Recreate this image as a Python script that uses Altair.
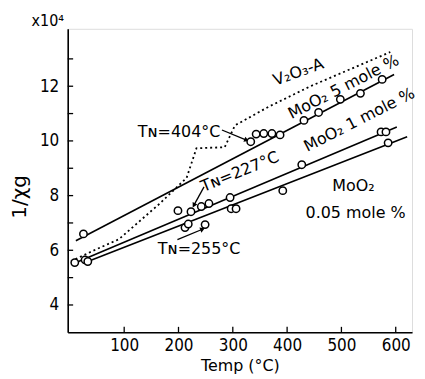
import altair as alt
import pandas as pd

# ---- data ----
# fitted straight lines (end points) for the three MoO2-doped samples
fit_series = ["5", "5", "1", "1", "0.05", "0.05"]
fit_x = [11, 597, 5, 602, 33, 621]
fit_y = [6.35, 12.43, 5.5, 10.51, 5.59, 10.15]

# V2O3-A dotted curve
v2o3_x = [2, 50, 90, 165, 215, 233, 285, 304, 318, 366, 443, 590]
v2o3_y = [5.6, 6.05, 6.4, 7.7, 8.65, 9.73, 9.77, 10.57, 10.72, 11.25, 12.0, 13.25]

# measured points
p5_x = [25, 333, 343, 357, 372, 387, 431, 458, 498, 535, 575]
p5_y = [6.6, 9.97, 10.25, 10.27, 10.27, 10.22, 10.75, 11.04, 11.52, 11.74, 12.25]
p1_x = [9, 28, 199, 223, 242, 256, 295, 427, 573, 582]
p1_y = [5.55, 5.65, 7.45, 7.41, 7.6, 7.71, 7.93, 9.13, 10.33, 10.33]
p005_x = [33, 212, 218, 249, 297, 306, 392, 586]
p005_y = [5.59, 6.83, 6.96, 6.94, 7.52, 7.52, 8.18, 9.93]

# annotations
lab_text = ["Tɴ=404°C", "Tɴ=227°C", "Tɴ=255°C", "V₂O₃-A", "MoO₂  5 mole %",
            "MoO₂  1 mole %", "MoO₂", "0.05 mole %"]
lab_x = [201, 313, 238, 421, 504, 533, 522, 526]
lab_y = [10.33, 8.87, 6.03, 12.52, 11.97, 10.77, 8.36, 7.38]
lab_angle = [0, 338, 0, 340, 333, 333, 0, 0]

arr_x = [280, 247, 198]
arr_y = [10.40, 8.32, 6.39]
arr_x2 = [324, 229, 243]
arr_y2 = [10.04, 7.67, 6.76]
arr_head = [112, 209, 68]

x_ticks = [100, 200, 300, 400, 500, 600]
y_ticks = [4, 6, 8, 10, 12]
y_minor = [4, 5, 6, 7, 8, 9, 10, 11, 12, 13]

XDOM = [-4, 630]
YDOM = [3, 14.1]
FONT = "DejaVu Sans Condensed, DejaVu Sans"

fits = pd.DataFrame({"s": fit_series, "x": fit_x, "y": fit_y})
v2o3 = pd.DataFrame({"x": v2o3_x, "y": v2o3_y})
pts = pd.DataFrame({
    "x": p5_x + p1_x + p005_x,
    "y": p5_y + p1_y + p005_y,
})
labs = pd.DataFrame({"t": lab_text, "x": lab_x, "y": lab_y, "a": lab_angle})
arrows = pd.DataFrame({"x": arr_x, "y": arr_y, "x2": arr_x2, "y2": arr_y2, "a": arr_head})
xt = pd.DataFrame({"x": x_ticks, "y": [YDOM[0]] * len(x_ticks), "y2": [YDOM[0] + 0.2] * len(x_ticks)})
yt = pd.DataFrame({"y": y_minor, "x": [XDOM[0]] * len(y_minor), "x2": [XDOM[0] + 10] * len(y_minor)})

xs = alt.Scale(domain=XDOM, nice=False, zero=False)
ys = alt.Scale(domain=YDOM, nice=False, zero=False)

xaxis = alt.Axis(values=x_ticks, tickSize=0, grid=False, domainColor="black", domainWidth=1.6,
                 labelFont=FONT, labelFontSize=17, labelColor="black", labelPadding=5,
                 title="Temp (°C)", titleFont="DejaVu Sans", titleFontSize=16,
                 titleFontWeight="normal", titleColor="black", titlePadding=4)
yaxis = alt.Axis(values=y_ticks, tickSize=0, grid=False, domainColor="black", domainWidth=1.6,
                 labelFont=FONT, labelFontSize=17, labelColor="black", labelPadding=9, title=None)

base_fit = alt.Chart(fits).mark_line(color="black", strokeWidth=1.6).encode(
    x=alt.X("x:Q", scale=xs, axis=xaxis),
    y=alt.Y("y:Q", scale=ys, axis=yaxis),
    detail="s:N",
)
dotted = alt.Chart(v2o3).mark_line(color="black", strokeWidth=1.8, strokeDash=[2, 3]).encode(
    x=alt.X("x:Q", scale=xs), y=alt.Y("y:Q", scale=ys), order="x:Q"
)
points = alt.Chart(pts).mark_point(shape="circle", filled=True, fill="white", stroke="black",
                                   strokeWidth=1.5, size=55, opacity=1).encode(
    x=alt.X("x:Q", scale=xs), y=alt.Y("y:Q", scale=ys)
)
texts = alt.Chart(labs).mark_text(font="DejaVu Sans", fontSize=16, color="black",
                                  align="center", baseline="middle").encode(
    x=alt.X("x:Q", scale=xs), y=alt.Y("y:Q", scale=ys), text="t:N",
    angle=alt.Angle("a:Q", scale=None),
)
arrow_lines = alt.Chart(arrows).mark_rule(color="black", strokeWidth=1.3).encode(
    x=alt.X("x:Q", scale=xs), y=alt.Y("y:Q", scale=ys), x2="x2:Q", y2="y2:Q"
)
arrow_heads = alt.Chart(arrows).mark_point(shape="triangle", filled=True, color="black",
                                           size=30, opacity=1).encode(
    x=alt.X("x2:Q", scale=xs), y=alt.Y("y2:Q", scale=ys),
    angle=alt.Angle("a:Q", scale=None),
)
xtick_m = alt.Chart(xt).mark_rule(color="black", strokeWidth=1.3).encode(
    x=alt.X("x:Q", scale=xs), y=alt.Y("y:Q", scale=ys), y2="y2:Q"
)
ytick_m = alt.Chart(yt).mark_rule(color="black", strokeWidth=1.3).encode(
    y=alt.Y("y:Q", scale=ys), x=alt.X("x:Q", scale=xs), x2="x2:Q"
)
exp_lab = alt.Chart(pd.DataFrame({"t": ["x10⁴"]})).mark_text(
    font=FONT, fontSize=16, color="black", align="center", baseline="middle").encode(
    text="t:N", x=alt.value(-20), y=alt.value(-8)
)
ytitle = alt.Chart(pd.DataFrame({"t": ["1/χg"]})).mark_text(
    font="DejaVu Sans", fontSize=20, color="black", align="center", baseline="middle",
    angle=270).encode(
    text="t:N", x=alt.value(-48), y=alt.value(169)
)

chart = alt.layer(
    base_fit, dotted, xtick_m, ytick_m, arrow_lines, arrow_heads, points, texts, exp_lab, ytitle
).properties(
    width=346, height=305,
    autosize=alt.AutoSizeParams(type="none"),
    padding={"left": 60, "top": 20, "right": 5, "bottom": 46},
).configure_view(stroke=None).configure(background="white")

chart.save("out.html", embed_options={"renderer": "svg", "actions": False})
